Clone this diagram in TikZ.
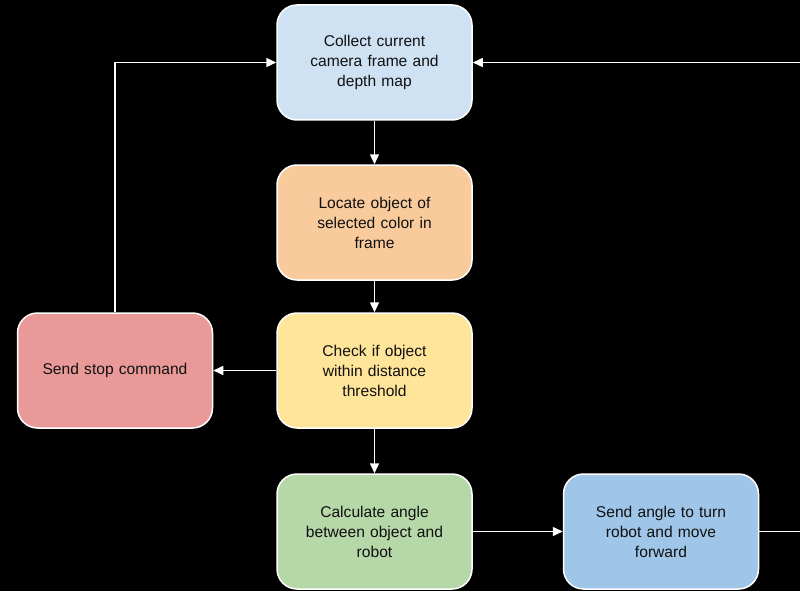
\documentclass[tikz,border=0pt]{standalone}
\usepackage{fontspec}
\setmainfont{Liberation Sans}
\usetikzlibrary{arrows.meta}
\definecolor{cA}{HTML}{CFE2F3}
\definecolor{cB}{HTML}{F9CB9C}
\definecolor{cC}{HTML}{FFE599}
\definecolor{cD}{HTML}{EA9999}
\definecolor{cE}{HTML}{B6D7A8}
\definecolor{cF}{HTML}{9FC5E8}
\definecolor{txt}{HTML}{111111}
\begin{document}
\begin{tikzpicture}[x=1pt,y=-1pt,
  box/.style={draw=white,line width=1.5pt,rounded corners=20pt,minimum width=195pt,minimum height=115pt,
    align=center,text width=170pt,font=\fontsize{15.6pt}{20pt}\selectfont,text=txt},
  conn/.style={draw=white,line width=1.5pt,-{Triangle[length=10pt,width=9pt]}}]
\fill[black] (0,0) rectangle (800,591);
\useasboundingbox (0,0) rectangle (800,591);
\clip (0,0) rectangle (800,591);
\node[box,fill=cA] (n1) at (374.5,62.5) {Collect current\\camera frame and\\depth map};
\node[box,fill=cB] (n2) at (374.5,222.5) {Locate object of\\selected color in\\frame};
\node[box,fill=cC] (n3) at (374.5,370.5) {Check if object\\within distance\\threshold};
\node[box,fill=cD] (n4) at (115,370.5) {Send stop command};
\node[box,fill=cE] (n5) at (374.5,531.5) {Calculate angle\\between object and\\robot};
\node[box,fill=cF] (n6) at (661,531.5) {Send angle to turn\\robot and move\\forward};
\draw[conn] (n1) -- (n2);
\draw[conn] (n2) -- (n3);
\draw[conn] (n3) -- (n5);
\draw[conn] (n3) -- (n4);
\draw[conn] (n5) -- (n6);
\draw[conn] (n4.north) |- (n1.west);
\coordinate (rc) at (830,300);
\draw[conn] (n6.east) -| (rc) |- (n1.east);
\end{tikzpicture}
\end{document}
